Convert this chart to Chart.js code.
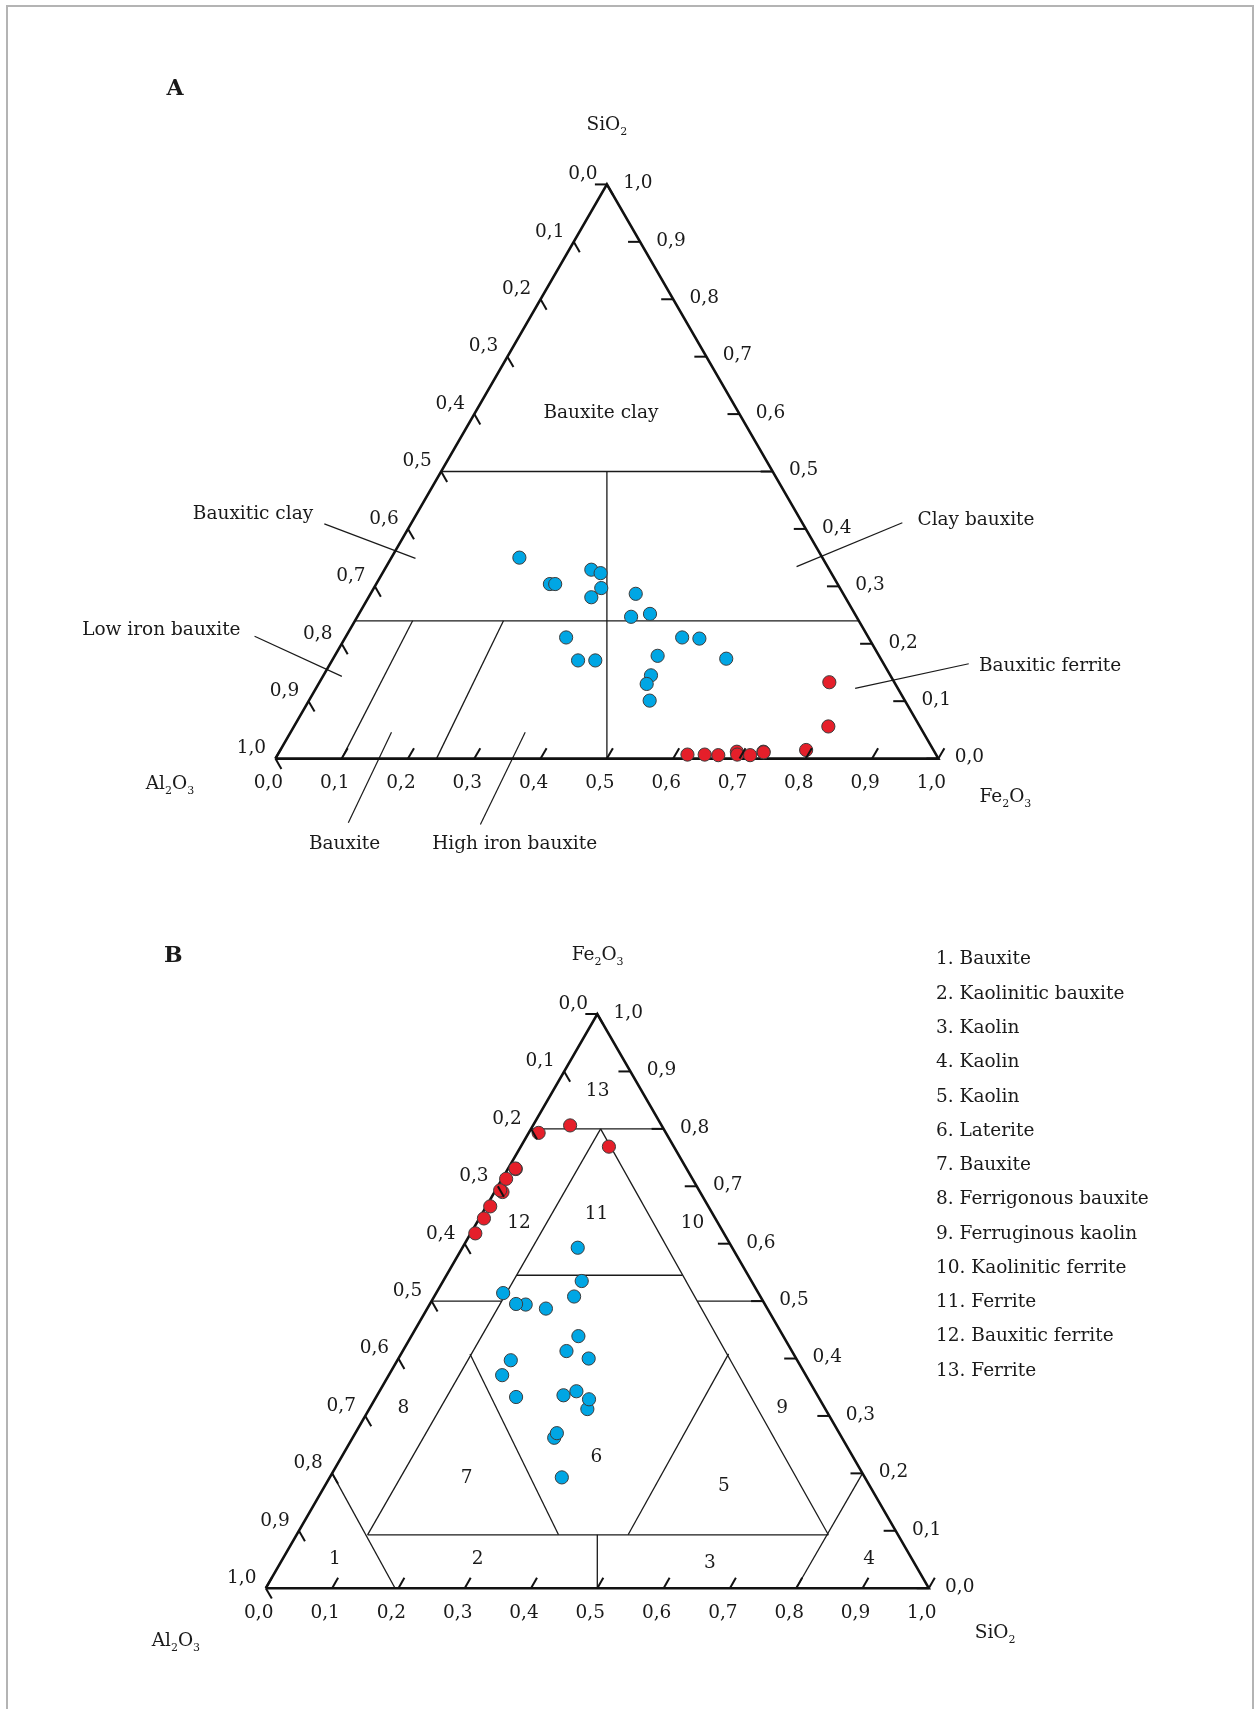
<!DOCTYPE html>
<html>
<head>
<meta charset="utf-8">
<title>Ternary diagrams Al2O3 – SiO2 – Fe2O3</title>
<script src="https://cdn.jsdelivr.net/npm/chart.js@4.4.1/dist/chart.umd.min.js"></script>
<style>
  html, body { margin: 0; padding: 0; background: #ffffff; }
  #page { position: relative; width: 1255px; height: 1709px; overflow: hidden; background: #fff; }
  #frame { position: absolute; left: 6px; top: 5px; width: 1248px; height: 1760px;
           border: 2px solid #b4b4b4; border-bottom: none; box-sizing: border-box; }
  canvas { position: absolute; left: 0; }
</style>
</head>
<body>
<div id="page">
  <div id="frame"></div>
  <canvas id="chartA" width="1255" height="860" style="top:0px"></canvas>
  <canvas id="chartB" width="1255" height="849" style="top:860px"></canvas>
</div>
<script>
// ---- Sample compositions (mass fractions), the same samples in both diagrams ----
// group 1 (blue)
const al2o3Blue = [0.457, 0.434, 0.426, 0.359, 0.348, 0.360, 0.383, 0.313, 0.340, 0.309,
                   0.456, 0.458, 0.432, 0.334, 0.281, 0.256, 0.233, 0.361, 0.375, 0.385];
const fe2o3Blue = [0.193, 0.262, 0.270, 0.312, 0.329, 0.343, 0.336, 0.400, 0.413, 0.439,
                   0.333, 0.371, 0.397, 0.487, 0.508, 0.535, 0.593, 0.494, 0.495, 0.514];
const sio2Blue  = [0.350, 0.304, 0.304, 0.329, 0.323, 0.297, 0.281, 0.287, 0.247, 0.252,
                   0.211, 0.171, 0.171, 0.179, 0.211, 0.209, 0.174, 0.145, 0.130, 0.101];
// group 2 (red)
const al2o3Red = [0.098, 0.138, 0.375, 0.349, 0.329, 0.298, 0.300, 0.281, 0.258, 0.258, 0.192];
const fe2o3Red = [0.769, 0.806, 0.618, 0.644, 0.665, 0.690, 0.693, 0.713, 0.730, 0.731, 0.793];
const sio2Red  = [0.133, 0.056, 0.007, 0.007, 0.006, 0.012, 0.007, 0.006, 0.012, 0.011, 0.015];

// axis tick labels (0,0 ... 1,0)
const tickLabels = ['0,0', '0,1', '0,2', '0,3', '0,4', '0,5', '0,6', '0,7', '0,8', '0,9', '1,0'];

// field names, diagram A
const fieldsA = ['Bauxite clay', 'Bauxitic clay', 'Clay bauxite', 'Low iron bauxite',
                 'Bauxitic ferrite', 'Bauxite', 'High iron bauxite'];
// field numbers and legend, diagram B
const fieldNumbersB = ['13', '12', '11', '10', '8', '9', '6', '7', '5', '1', '2', '3', '4'];
const legendB = ['1. Bauxite', '2. Kaolinitic bauxite', '3. Kaolin', '4. Kaolin', '5. Kaolin',
                 '6. Laterite', '7. Bauxite', '8. Ferrigonous bauxite', '9. Ferruginous kaolin',
                 '10. Kaolinitic ferrite', '11. Ferrite', '12. Bauxitic ferrite', '13. Ferrite'];

// field boundaries, given as compositions {al, fe, si}
const boundariesA = [
  [{al: 0.50, fe: 0.00, si: 0.50}, {al: 0.00, fe: 0.50, si: 0.50}],
  [{al: 0.76, fe: 0.00, si: 0.24}, {al: 0.00, fe: 0.76, si: 0.24}],
  [{al: 0.25, fe: 0.25, si: 0.50}, {al: 0.50, fe: 0.50, si: 0.00}],
  [{al: 0.90, fe: 0.10, si: 0.00}, {al: 0.673, fe: 0.087, si: 0.24}],
  [{al: 0.757, fe: 0.243, si: 0.00}, {al: 0.536, fe: 0.224, si: 0.24}]
];
const boundariesB = [
  [{al: 0.20, fe: 0.80, si: 0.00}, {al: 0.00, fe: 0.80, si: 0.20}],
  [{al: 0.095, fe: 0.80, si: 0.105}, {al: 0.800, fe: 0.093, si: 0.107}],
  [{al: 0.095, fe: 0.80, si: 0.105}, {al: 0.105, fe: 0.093, si: 0.802}],
  [{al: 0.800, fe: 0.093, si: 0.107}, {al: 0.105, fe: 0.093, si: 0.802}],
  [{al: 0.80, fe: 0.20, si: 0.00}, {al: 0.805, fe: 0.00, si: 0.195}],
  [{al: 0.00, fe: 0.20, si: 0.80}, {al: 0.20, fe: 0.00, si: 0.80}],
  [{al: 0.50, fe: 0.50, si: 0.00}, {al: 0.394, fe: 0.50, si: 0.106}],
  [{al: 0.099, fe: 0.50, si: 0.401}, {al: 0.00, fe: 0.50, si: 0.50}],
  [{al: 0.349, fe: 0.545, si: 0.106}, {al: 0.099, fe: 0.545, si: 0.356}],
  [{al: 0.488, fe: 0.408, si: 0.104}, {al: 0.512, fe: 0.093, si: 0.395}],
  [{al: 0.098, fe: 0.408, si: 0.494}, {al: 0.407, fe: 0.093, si: 0.500}],
  [{al: 0.4535, fe: 0.093, si: 0.4535}, {al: 0.50, fe: 0.00, si: 0.50}]
];

// ---- geometry helpers ----
const SQ = Math.sqrt(3) / 2;
const UNIT_PX = 663;          // side of each triangle in pixels
const TICK = 12;              // tick length in pixels
const FONT = '"DejaVu Serif", "Liberation Serif", serif';
const TXT = '18.5px ' + FONT;
const BLUE = '#00a6e4';
const RED = '#e51f2a';

// scale limits so that the base-left corner of the triangle sits at (blX, blY)
function frameLimits(w, h, blX, blY) {
  return {
    xmin: -blX / UNIT_PX, xmax: (w - blX) / UNIT_PX,
    ymin: (blY - h) / UNIT_PX, ymax: blY / UNIT_PX
  };
}

// composition -> plane coordinates; `top` and `right` name the apex and right-corner oxides
function projector(top, right) {
  return c => {
    const s = c.al + c.fe + c.si;
    const t = c[top] / s, r = c[right] / s;
    return {x: r + t / 2, y: t * SQ};
  };
}

function samples(al, fe, si) {
  return al.map((a, i) => ({al: a, fe: fe[i], si: si[i]}));
}

function lineSet(points, width, color) {
  return {
    type: 'scatter', data: points, showLine: true, pointRadius: 0, pointHoverRadius: 0,
    borderColor: color || '#111', borderWidth: width, fill: false, order: 5, clip: false
  };
}

function pointSet(points, color) {
  return {
    type: 'scatter', data: points, pointRadius: 6.6, pointHoverRadius: 6.6,
    backgroundColor: color, borderColor: '#3c3c3c', borderWidth: 1, order: 0, clip: false
  };
}

// formula with subscripts, e.g. [['Al',0],['2',1],['O',0],['3',1]], centred on (cx, cy)
function drawFormula(ctx, parts, cx, cy) {
  const big = TXT, small = '11px ' + FONT;
  let w = 0;
  parts.forEach(p => { ctx.font = p[1] ? small : big; w += ctx.measureText(p[0]).width; });
  let x = cx - w / 2;
  ctx.textAlign = 'left';
  ctx.textBaseline = 'alphabetic';
  parts.forEach(p => {
    ctx.font = p[1] ? small : big;
    ctx.fillText(p[0], x, p[1] ? cy + 12 : cy + 7);
    x += ctx.measureText(p[0]).width;
  });
}

// axes, ticks and all lettering of one diagram
function decorPlugin(spec) {
  return {
    id: 'ternaryDecor',
    afterDatasetsDraw(chart) {
      const ctx = chart.ctx, sx = chart.scales.x, sy = chart.scales.y;
      const P = (u, v) => [sx.getPixelForValue(u), sy.getPixelForValue(v)];
      ctx.save();
      ctx.strokeStyle = '#111';
      ctx.lineWidth = 2;
      ctx.fillStyle = '#1a1a1a';
      tickLabels.forEach((lab, i) => {
        const t = i / 10;
        ctx.font = TXT;
        ctx.textAlign = 'center';
        ctx.textBaseline = 'middle';
        // left side
        let [x, y] = P((1 - t) / 2, (1 - t) * SQ);
        ctx.beginPath(); ctx.moveTo(x, y); ctx.lineTo(x + 0.5 * TICK, y + SQ * TICK); ctx.stroke();
        ctx.fillText(lab, x - 24, y - 10);
        // base
        [x, y] = P(t, 0);
        ctx.beginPath(); ctx.moveTo(x, y); ctx.lineTo(x + 0.5 * TICK, y - SQ * TICK); ctx.stroke();
        ctx.fillText(lab, x - 7, y + 25);
        // right side
        [x, y] = P(1 - t / 2, t * SQ);
        ctx.beginPath(); ctx.moveTo(x, y); ctx.lineTo(x - TICK, y); ctx.stroke();
        ctx.fillText(lab, x + 31, y - 1);
      });
      // oxide names at the corners
      spec.formulas.forEach(f => {
        const [x, y] = P(f.u, f.v);
        drawFormula(ctx, f.parts, x, y);
      });
      // field names / numbers
      ctx.font = TXT;
      ctx.textAlign = 'center';
      ctx.textBaseline = 'middle';
      spec.labels.forEach(l => {
        const [x, y] = P(l.u, l.v);
        ctx.fillText(l.text, x, y);
      });
      // legend
      if (spec.legend) {
        ctx.textAlign = 'left';
        spec.legend.items.forEach((txt, i) => {
          const [x, y] = P(spec.legend.u, spec.legend.v - i * spec.legend.step);
          ctx.fillText(txt, x, y);
        });
      }
      // panel letter
      ctx.font = 'bold 22px ' + FONT;
      ctx.textAlign = 'center';
      const [lx, ly] = P(spec.letter.u, spec.letter.v);
      ctx.fillText(spec.letter.text, lx, ly + 2);
      ctx.restore();
    }
  };
}

function buildChart(id, spec) {
  const proj = projector(spec.top, spec.right);
  const outline = [{x: 0, y: 0}, {x: 1, y: 0}, {x: 0.5, y: SQ}, {x: 0, y: 0}];
  const datasets = [];
  datasets.push(lineSet(outline, 2.6, '#111'));
  spec.boundaries.forEach(b => datasets.push(lineSet(b.map(proj), 1.3, '#1a1a1a')));
  (spec.leaders || []).forEach(l => datasets.push(lineSet(l, 1.2, '#1a1a1a')));
  datasets.push(pointSet(samples(al2o3Blue, fe2o3Blue, sio2Blue).map(proj), BLUE));
  datasets.push(pointSet(samples(al2o3Red, fe2o3Red, sio2Red).map(proj), RED));
  const lim = spec.limits;
  return new Chart(document.getElementById(id), {
    type: 'scatter',
    data: {datasets},
    options: {
      responsive: false, animation: false, devicePixelRatio: 1, events: [],
      layout: {padding: 0, autoPadding: false},
      plugins: {legend: {display: false}, tooltip: {enabled: false}},
      scales: {
        x: {type: 'linear', display: false, min: lim.xmin, max: lim.xmax},
        y: {type: 'linear', display: false, min: lim.ymin, max: lim.ymax}
      }
    },
    plugins: [decorPlugin(spec)]
  });
}

// ---- Diagram A: SiO2 at the apex, Fe2O3 to the right, Al2O3 to the left ----
buildChart('chartA', {
  top: 'si', right: 'fe',
  limits: frameLimits(1255, 860, 275.4, 758.6),
  boundaries: boundariesA,
  leaders: [
    [{x: 0.0738, y: 0.354}, {x: 0.2113, y: 0.302}],
    [{x: 0.9456, y: 0.3557}, {x: 0.7861, y: 0.2896}],
    [{x: -0.0314, y: 0.1845}, {x: 0.1003, y: 0.124}],
    [{x: 1.0458, y: 0.1431}, {x: 0.8744, y: 0.1059}],
    [{x: 0.1751, y: 0.0397}, {x: 0.110, y: -0.0968}],
    [{x: 0.3768, y: 0.0397}, {x: 0.3092, y: -0.0994}]
  ],
  formulas: [
    {u: 0.50, v: 0.9587, parts: [['SiO', 0], ['2', 1]]},
    {u: -0.159, v: -0.036, parts: [['Al', 0], ['2', 1], ['O', 0], ['3', 1]]},
    {u: 1.101, v: -0.055, parts: [['Fe', 0], ['2', 1], ['O', 0], ['3', 1]]}
  ],
  labels: [
    {text: fieldsA[0], u: 0.491, v: 0.5208},
    {text: fieldsA[1], u: -0.0338, v: 0.3679},
    {text: fieldsA[2], u: 1.0567, v: 0.3599},
    {text: fieldsA[3], u: -0.172, v: 0.1935},
    {text: fieldsA[4], u: 1.1684, v: 0.1394},
    {text: fieldsA[5], u: 0.1044, v: -0.1288},
    {text: fieldsA[6], u: 0.3609, v: -0.1288}
  ],
  letter: {text: 'A', u: -0.1514, v: 1.013}
});

// ---- Diagram B: Fe2O3 at the apex, SiO2 to the right, Al2O3 to the left ----
const numPos = [[0.5005, 0.7492], [0.3819, 0.5501], [0.4988, 0.5647], [0.6436, 0.5501],
                [0.2077, 0.2721], [0.7786, 0.2721], [0.4988, 0.1982], [0.303, 0.1652],
                [0.6911, 0.1537], [0.1041, 0.0436], [0.3195, 0.0436], [0.670, 0.037],
                [0.9101, 0.0436]];
buildChart('chartB', {
  top: 'fe', right: 'si',
  limits: frameLimits(1255, 849, 265.8, 728.2),
  boundaries: boundariesB,
  formulas: [
    {u: 0.5005, v: 0.958, parts: [['Fe', 0], ['2', 1], ['O', 0], ['3', 1]]},
    {u: -0.1356, v: -0.0766, parts: [['Al', 0], ['2', 1], ['O', 0], ['3', 1]]},
    {u: 1.100, v: -0.0648, parts: [['SiO', 0], ['2', 1]]}
  ],
  labels: fieldNumbersB.map((t, i) => ({text: t, u: numPos[i][0], v: numPos[i][1]})),
  legend: {items: legendB, u: 1.0109, v: 0.948, step: 0.05168},
  letter: {text: 'B', u: -0.1394, v: 0.9566}
});
</script>
</body>
</html>
